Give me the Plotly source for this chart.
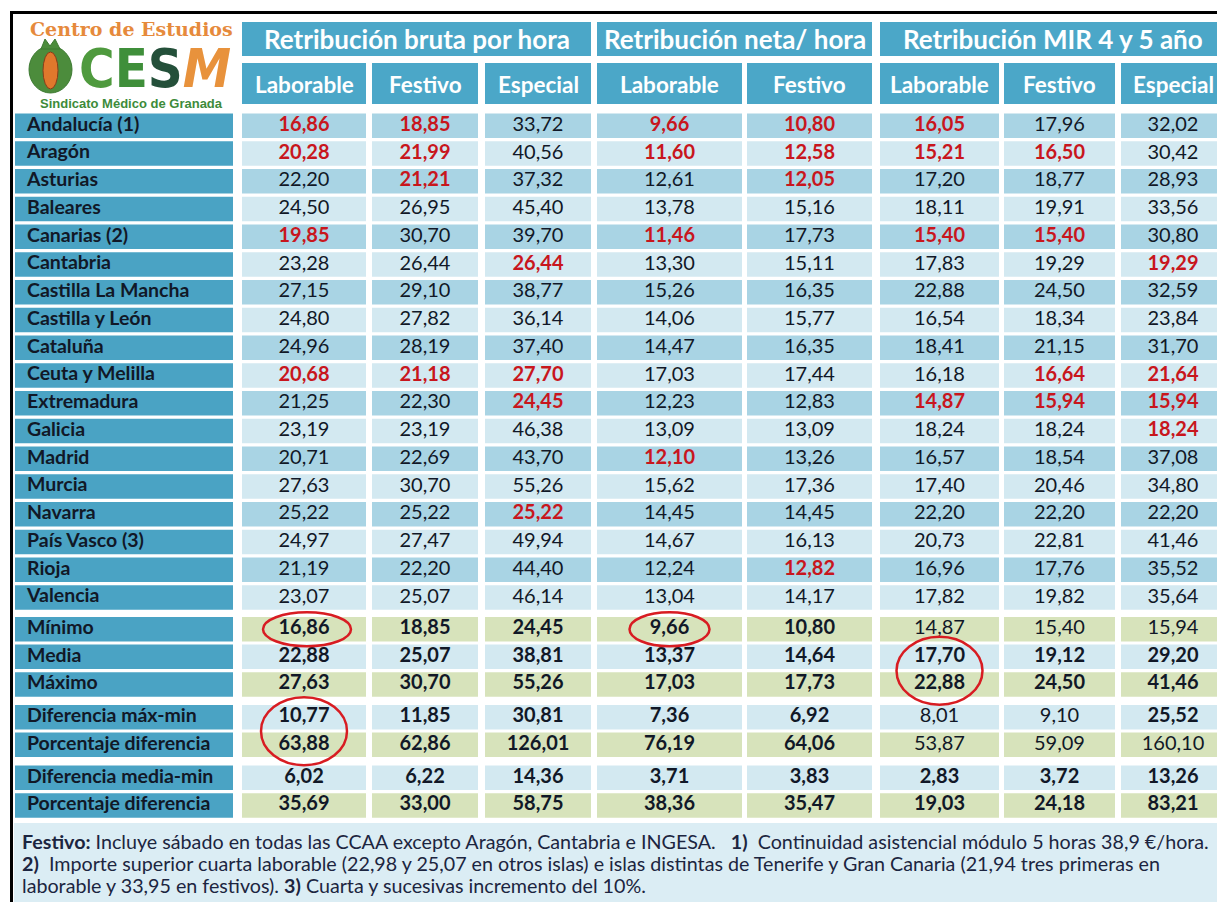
import plotly.graph_objects as go

# ---------------- DATA ----------------
regions = ["Andalucía (1)", "Aragón", "Asturias", "Baleares", "Canarias (2)", "Cantabria",
           "Castilla La Mancha", "Castilla y León", "Cataluña", "Ceuta y Melilla", "Extremadura",
           "Galicia", "Madrid", "Murcia", "Navarra", "País Vasco (3)", "Rioja", "Valencia"]

group_titles = ["Retribución bruta por hora", "Retribución neta/ hora", "Retribución MIR 4 y 5 año"]
group_columns = [[0, 1, 2], [3, 4], [5, 6, 7]]
column_titles = ["Laborable", "Festivo", "Especial", "Laborable", "Festivo", "Laborable", "Festivo", "Especial"]

bruta_laborable = [16.86, 20.28, 22.20, 24.50, 19.85, 23.28, 27.15, 24.80, 24.96, 20.68, 21.25, 23.19, 20.71, 27.63, 25.22, 24.97, 21.19, 23.07]
bruta_festivo   = [18.85, 21.99, 21.21, 26.95, 30.70, 26.44, 29.10, 27.82, 28.19, 21.18, 22.30, 23.19, 22.69, 30.70, 25.22, 27.47, 22.20, 25.07]
bruta_especial  = [33.72, 40.56, 37.32, 45.40, 39.70, 26.44, 38.77, 36.14, 37.40, 27.70, 24.45, 46.38, 43.70, 55.26, 25.22, 49.94, 44.40, 46.14]
neta_laborable  = [9.66, 11.60, 12.61, 13.78, 11.46, 13.30, 15.26, 14.06, 14.47, 17.03, 12.23, 13.09, 12.10, 15.62, 14.45, 14.67, 12.24, 13.04]
neta_festivo    = [10.80, 12.58, 12.05, 15.16, 17.73, 15.11, 16.35, 15.77, 16.35, 17.44, 12.83, 13.09, 13.26, 17.36, 14.45, 16.13, 12.82, 14.17]
mir_laborable   = [16.05, 15.21, 17.20, 18.11, 15.40, 17.83, 22.88, 16.54, 18.41, 16.18, 14.87, 18.24, 16.57, 17.40, 22.20, 20.73, 16.96, 17.82]
mir_festivo     = [17.96, 16.50, 18.77, 19.91, 15.40, 19.29, 24.50, 18.34, 21.15, 16.64, 15.94, 18.24, 18.54, 20.46, 22.20, 22.81, 17.76, 19.82]
mir_especial    = [32.02, 30.42, 28.93, 33.56, 30.80, 19.29, 32.59, 23.84, 31.70, 21.64, 15.94, 18.24, 37.08, 34.80, 22.20, 41.46, 35.52, 35.64]
columns = [bruta_laborable, bruta_festivo, bruta_especial, neta_laborable,
           neta_festivo, mir_laborable, mir_festivo, mir_especial]

# cells shown in red (region -> column indexes)
highlighted = {
    "Andalucía (1)": [0, 1, 3, 4, 5],
    "Aragón": [0, 1, 3, 4, 5, 6],
    "Asturias": [1, 4],
    "Canarias (2)": [0, 3, 5, 6],
    "Cantabria": [2, 7],
    "Ceuta y Melilla": [0, 1, 2, 6, 7],
    "Extremadura": [2, 5, 6, 7],
    "Galicia": [7],
    "Madrid": [3],
    "Navarra": [2],
    "Rioja": [4],
}

summary_names = ["Mínimo", "Media", "Máximo", "Diferencia máx-min", "Porcentaje diferencia",
                 "Diferencia media-min", "Porcentaje diferencia"]
minimo       = [16.86, 18.85, 24.45, 9.66, 10.80, 14.87, 15.40, 15.94]
media        = [22.88, 25.07, 38.81, 13.37, 14.64, 17.70, 19.12, 29.20]
maximo       = [27.63, 30.70, 55.26, 17.03, 17.73, 22.88, 24.50, 41.46]
dif_max_min  = [10.77, 11.85, 30.81, 7.36, 6.92, 8.01, 9.10, 25.52]
pct_max_min  = [63.88, 62.86, 126.01, 76.19, 64.06, 53.87, 59.09, 160.10]
dif_media_min = [6.02, 6.22, 14.36, 3.71, 3.83, 2.83, 3.72, 13.26]
pct_media_min = [35.69, 33.00, 58.75, 38.36, 35.47, 19.03, 24.18, 83.21]
summary_values = [minimo, media, maximo, dif_max_min, pct_max_min, dif_media_min, pct_media_min]
# summary cells printed in regular weight (row index -> columns)
summary_regular = {0: [5, 6, 7], 3: [5, 6], 4: [5, 6, 7]}

# circled cells: (summary row, column, rows spanned)
circled = [(0, 0, 1), (0, 3, 1), (1, 5, 2), (3, 0, 2)]

footer_lines = [
    "<b>Festivo:</b> Incluye sábado en todas las CCAA excepto Aragón, Cantabria e INGESA.\u00a0\u00a0 <b>1)</b>\u00a0 Continuidad asistencial módulo 5 horas 38,9 €/hora.",
    "<b>2)</b>\u00a0 Importe superior cuarta laborable (22,98 y 25,07 en otros islas) e islas distintas de Tenerife y Gran Canaria (21,94 tres primeras en",
    "laborable y 33,95 en festivos). <b>3)</b> Cuarta y sucesivas incremento del 10%.",
]

# ---------------- LAYOUT / STYLE ----------------
W, H = 1225, 902
OFF = 8  # default page margin of the html body
FONT = "Lato"
col_x = [(242, 366), (372, 478), (485, 591), (597, 742), (747, 872), (880, 999), (1004, 1115), (1121, 1225)]
label_x = (15, 233)
group_y = (22, 56)
colhead_y = (63, 104)
data_top, pitch, cell_h = 113.5, 27.75, 24.5
summary_tops = [617, 644.6, 672.2, 705, 732.6, 765.6, 793.2]

BLUE_HEAD = "#4ba7c8"
BLUE_LABEL = "#4aa3c4"
CELL_DARK = "#a9d4e4"
CELL_LIGHT = "#d3e9f1"
CELL_GREEN = "#d7e3bb"
RED = "#c8161d"
INK = "#111827"

def fmt(v):
    return f"{v:.2f}".replace(".", ",")

shapes = []
annotations = []

def rect(x0, x1, y0, y1, fill, line=None, lw=0):
    shapes.append(dict(type="rect", xref="x", yref="y", x0=x0, x1=x1, y0=y0, y1=y1,
                       fillcolor=fill, line=dict(color=line or fill, width=lw), layer="below"))

# outer frame and footer box
rect(14, 1230, 823, 910, "#dbedf4")
shapes.append(dict(type="rect", xref="x", yref="y", x0=11.5, x1=1240, y0=12.5, y1=920,
                   line=dict(color="black", width=3), fillcolor="rgba(0,0,0,0)", layer="above"))

# group headers
for title, cols in zip(group_titles, group_columns):
    x0, x1 = col_x[cols[0]][0], col_x[cols[-1]][1]
    rect(x0, x1, group_y[0], group_y[1], BLUE_HEAD)
    annotations.append(dict(x=(x0 + x1) / 2, y=(group_y[0] + group_y[1]) / 2, text=f"<b>{title}</b>",
                            showarrow=False, font=dict(family=FONT, size=26, color="white")))
# column headers
for (x0, x1), t in zip(col_x, column_titles):
    rect(x0, x1, colhead_y[0], colhead_y[1], BLUE_HEAD)
    annotations.append(dict(x=(x0 + x1) / 2, y=(colhead_y[0] + colhead_y[1]) / 2 + 1, text=f"<b>{t}</b>",
                            showarrow=False, font=dict(family=FONT, size=22.5, color="white")))

vx, vy, vt, vc = [], [], [], []
lx, ly, lt = [], [], []

# data rows
for i, reg in enumerate(regions):
    top = data_top + i * pitch
    cy = top + cell_h / 2
    rect(label_x[0], label_x[1], top, top + cell_h, BLUE_LABEL)
    lx.append(label_x[0] + 12); ly.append(cy); lt.append(f"<b>{reg}</b>")
    fill = CELL_DARK if i % 2 == 0 else CELL_LIGHT
    for j, (x0, x1) in enumerate(col_x):
        rect(x0, x1, top, top + cell_h, fill)
        red = j in highlighted.get(reg, [])
        s = fmt(columns[j][i])
        vx.append((x0 + x1) / 2); vy.append(cy)
        vt.append(f"<b>{s}</b>" if red else s)
        vc.append(RED if red else INK)

# summary rows
for k, (name, vals) in enumerate(zip(summary_names, summary_values)):
    top = summary_tops[k]
    cy = top + cell_h / 2
    rect(label_x[0], label_x[1], top, top + cell_h, BLUE_LABEL)
    lx.append(label_x[0] + 12); ly.append(cy); lt.append(f"<b>{name}</b>")
    fill = CELL_GREEN if k in (0, 2, 4, 6) else CELL_LIGHT
    for j, (x0, x1) in enumerate(col_x):
        rect(x0, x1, top, top + cell_h, fill)
        s = fmt(vals[j])
        vx.append((x0 + x1) / 2); vy.append(cy)
        vt.append(s if j in summary_regular.get(k, []) else f"<b>{s}</b>")
        vc.append(INK)

# red circles
circle_size = {1: (88, 34), 2: (86, 68)}
for (k, j, span) in circled:
    cxm = (col_x[j][0] + col_x[j][1]) / 2 + (3 if span == 1 and j == 0 else 0)
    cym = summary_tops[k] + (span * pitch - (pitch - cell_h)) / 2
    w, h = circle_size[span]
    if j == 3:
        w = 80
    shapes.append(dict(type="circle", xref="x", yref="y", x0=cxm - w / 2, x1=cxm + w / 2,
                       y0=cym - h / 2, y1=cym + h / 2, line=dict(color="#d81c22", width=2.5),
                       layer="above"))

# footer text
for n, line in enumerate(footer_lines):
    annotations.append(dict(x=20, y=841 + n * 22, text=line, xanchor="left", showarrow=False,
                            font=dict(family=FONT, size=19.7, color="#1c2540")))

# logo
annotations.append(dict(x=131.5, y=29, text="<b>Centro de Estudios</b>", showarrow=False,
                        font=dict(family="DejaVu Serif", size=19, color="#e68a3c")))
shapes.append(dict(type="circle", xref="x", yref="y", x0=29, x1=72, y0=46, y1=93,
                   fillcolor="#4c8c3c", line=dict(color="#3d7a31", width=1)))
shapes.append(dict(type="path", xref="x", yref="y", path="M 41 49 L 45 39 L 50 46 L 55 39 L 60 49 Z",
                   fillcolor="#4c8c3c", line=dict(color="#3d7a31", width=1)))
shapes.append(dict(type="circle", xref="x", yref="y", x0=43, x1=58, y0=52, y1=89,
                   fillcolor="#e0782c", line=dict(color="#8a3c1a", width=1)))
annotations.append(dict(x=155, y=68,
                        text="<b><span style='color:#4f9a3e'>C</span><span style='color:#3f8f3a'>E</span>"
                             "<span style='color:#24503a'>S</span><span style='color:#e8923c'><i>M</i></span></b>",
                        showarrow=False, font=dict(family="DejaVu Sans Condensed", size=54)))
annotations.append(dict(x=131, y=103.5, text="<b>Sindicato Médico de Granada</b>", showarrow=False,
                        font=dict(family="Liberation Sans", size=13, color="#3d8b3a")))

fig = go.Figure()
fig.add_trace(go.Scatter(x=vx, y=vy, text=vt, mode="text", textposition="middle center",
                         textfont=dict(family=FONT, size=20, color=vc), hoverinfo="skip"))
fig.add_trace(go.Scatter(x=lx, y=ly, text=lt, mode="text", textposition="middle right",
                         textfont=dict(family=FONT, size=19.5, color=INK), hoverinfo="skip"))

fig.update_layout(
    width=W - OFF, height=H - OFF, margin=dict(l=0, r=0, t=0, b=0),
    paper_bgcolor="white", plot_bgcolor="white", showlegend=False,
    xaxis=dict(range=[OFF, W], visible=False, fixedrange=True),
    yaxis=dict(range=[H, OFF], visible=False, fixedrange=True),
    shapes=shapes, annotations=annotations,
)
fig.write_html("out.html")
